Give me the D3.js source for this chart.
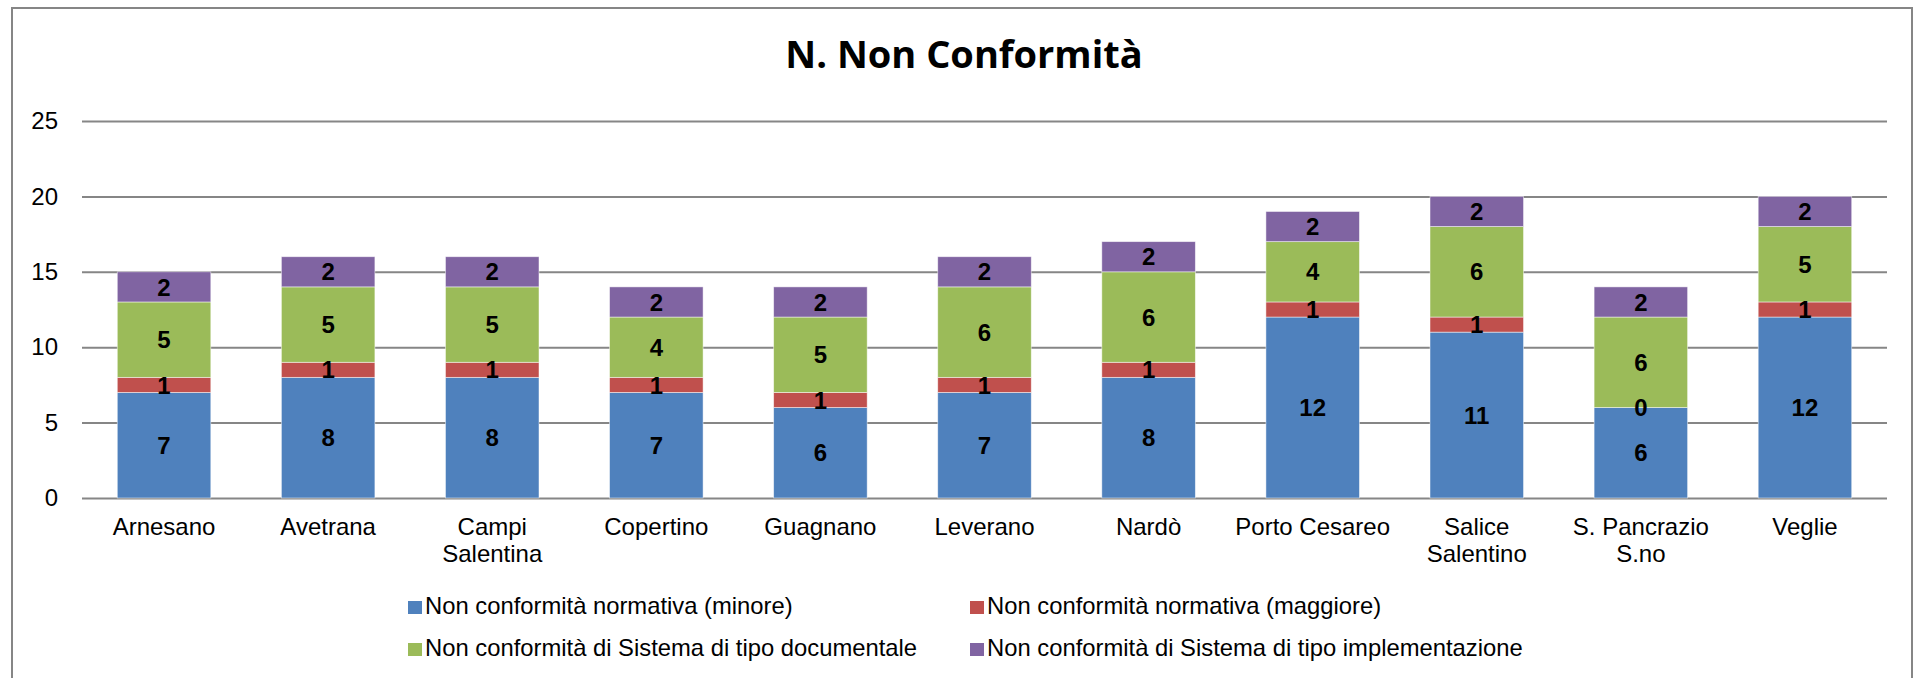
<html>
    <head>
        <meta charset="utf-8">
        <script src="https://d3js.org/d3.v7.min.js"></script>
        <style>
            body { margin: 0; background: #fff; }
        </style>
    </head>
    <body>
        <svg height="678" width="1916" id="chart"></svg>
    </body>
    <script>
        // data
        var categories = ["Arnesano", "Avetrana", "Campi Salentina", "Copertino", "Guagnano", "Leverano",
                          "Nardò", "Porto Cesareo", "Salice Salentino", "S. Pancrazio S.no", "Veglie"]
        var seriesNames = ["Non conformità normativa (minore)",
                           "Non conformità normativa (maggiore)",
                           "Non conformità di Sistema di tipo documentale",
                           "Non conformità di Sistema di tipo implementazione"]
        var minore       = [7, 8, 8, 7, 6, 7, 8, 12, 11, 6, 12]
        var maggiore     = [1, 1, 1, 1, 1, 1, 1, 1, 1, 0, 1]
        var documentale  = [5, 5, 5, 4, 5, 6, 6, 4, 6, 6, 5]
        var implementaz  = [2, 2, 2, 2, 2, 2, 2, 2, 2, 2, 2]
        var yTicks = [0, 5, 10, 15, 20, 25]
        var colors = ["#4F81BD", "#C0504D", "#9BBB59", "#8064A2"]

        var keys = ["minore", "maggiore", "documentale", "implementaz"]
        var rows = categories.map(function(c, i) {
            return { cat: c, minore: minore[i], maggiore: maggiore[i], documentale: documentale[i], implementaz: implementaz[i] }
        })

        var svg = d3.select("#chart")
        // plot area edges (note: "top" is a reserved window prop, so prefixed names)
        var plotLeft = 82, plotRight = 1887, plotTop = 121, plotBottom = 498

        // outer chart border
        svg.append("rect")
            .attr("x", 12).attr("y", 8)
            .attr("width", 1900).attr("height", 700)
            .attr("fill", "none")
            .attr("stroke", "#868686")
            .attr("stroke-width", 2)

        svg.append("text")
            .attr("x", 964)
            .attr("y", 68)
            .attr("text-anchor", "middle")
            .style("font-family", "'Open Sans', sans-serif")
            .style("font-weight", "bold")
            .style("font-size", "38px")
            .text("N. Non Conformità")

        var xScale = d3.scaleBand().domain(categories).range([plotLeft, plotRight]).paddingInner(0.43).paddingOuter(0.215)
        var yScale = d3.scaleLinear().domain([0, 25]).range([plotBottom, plotTop])

        // gridlines + y labels
        var yAxis = svg.append("g")
            .attr("transform", "translate(" + plotLeft + ",0)")
            .call(d3.axisLeft(yScale).tickValues(yTicks).tickSize(-(plotRight - plotLeft)).tickPadding(24))
        yAxis.select(".domain").remove()
        yAxis.selectAll(".tick line").attr("stroke", "#868686").attr("stroke-width", 2)
        yAxis.selectAll(".tick text")
            .style("font-family", "'Liberation Sans', Arial, sans-serif")
            .style("font-size", "24px")
            .attr("fill", "#000")

        var stack = d3.stack().keys(keys)(rows)

        var layers = svg.selectAll(".layer")
            .data(stack)
            .enter().append("g")
            .attr("class", "layer")
            .attr("fill", function(d, i) { return colors[i] })

        layers.selectAll("rect")
            .data(function(d) { return d })
            .enter().append("rect")
            .attr("x", function(d) { return xScale(d.data.cat) })
            .attr("y", function(d) { return yScale(d[1]) })
            .attr("width", xScale.bandwidth())
            .attr("height", function(d) { return yScale(d[0]) - yScale(d[1]) })
            .attr("stroke", "#ffffff")
            .attr("stroke-opacity", 0.6)
            .attr("stroke-width", 0.8)

        // value labels in the middle of each segment
        var labels = svg.append("g")
        stack.forEach(function(layer) {
            labels.selectAll(null)
                .data(layer)
                .enter().append("text")
                .attr("x", function(d) { return xScale(d.data.cat) + xScale.bandwidth() / 2 })
                .attr("y", function(d) { return (yScale(d[0]) + yScale(d[1])) / 2 })
                .attr("dy", "0.36em")
                .attr("text-anchor", "middle")
                .attr("fill", "#000")
                .style("font-family", "'Liberation Sans', Arial, sans-serif")
                .style("font-weight", "bold")
                .style("font-size", "24px")
                .text(function(d) { return d[1] - d[0] })
        })

        // x axis: wrapped category labels
        var xAxis = svg.append("g")
            .attr("transform", "translate(0," + plotBottom + ")")
            .call(d3.axisBottom(xScale).tickSize(0).tickPadding(20))
        xAxis.select(".domain").remove()
        xAxis.selectAll(".tick text")
            .style("font-family", "'Liberation Sans', Arial, sans-serif")
            .style("font-size", "24px")
            .attr("fill", "#000")
            .call(wrap, xScale.step() - 4)

        function wrap(texts, width) {
            texts.each(function() {
                var text = d3.select(this)
                var words = text.text().split(" ")
                var y = text.attr("y")
                text.text(null)
                var line = [], lineNo = 0
                var tspan = text.append("tspan").attr("x", 0).attr("y", y).attr("dy", "0.71em")
                words.forEach(function(w) {
                    line.push(w)
                    tspan.text(line.join(" "))
                    if (tspan.node().getComputedTextLength() > width && line.length > 1) {
                        line.pop()
                        tspan.text(line.join(" "))
                        line = [w]
                        lineNo++
                        tspan = text.append("tspan").attr("x", 0).attr("y", y)
                            .attr("dy", (0.71 + lineNo * 1.13) + "em").text(w)
                    }
                })
            })
        }

        // legend, two columns by two rows
        var legendPos = [[408, 614], [970, 614], [408, 656], [970, 656]]
        var legend = svg.selectAll(".legend")
            .data(seriesNames)
            .enter().append("g")
            .attr("class", "legend")
            .attr("transform", function(d, i) { return "translate(" + legendPos[i][0] + "," + legendPos[i][1] + ")" })
        legend.append("rect")
            .attr("x", 0).attr("y", -13)
            .attr("width", 14).attr("height", 13)
            .attr("fill", function(d, i) { return colors[i] })
        legend.append("text")
            .attr("x", 17)
            .attr("y", 0)
            .style("font-family", "'Liberation Sans', Arial, sans-serif")
            .style("font-size", "23.8px")
            .attr("fill", "#000")
            .text(function(d) { return d })
    </script>
</html>
